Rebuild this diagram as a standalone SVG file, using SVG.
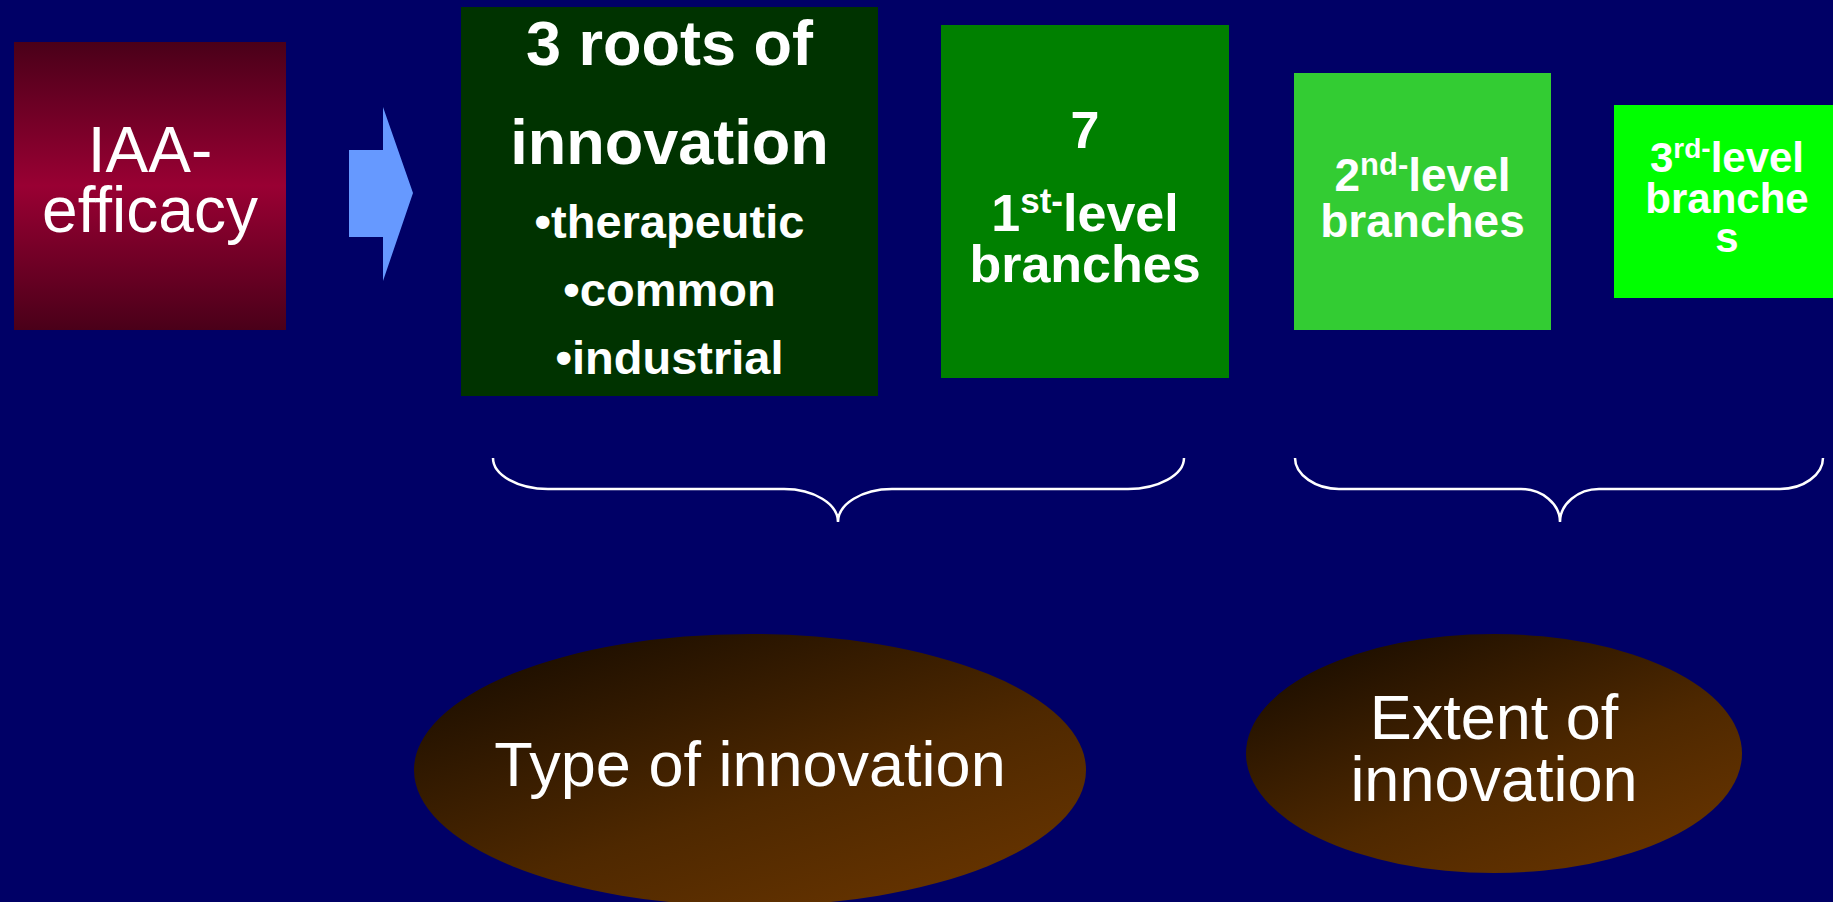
<svg xmlns="http://www.w3.org/2000/svg" width="1833" height="902" viewBox="0 0 1833 902">
  <defs>
    <linearGradient id="gradRed" x1="0" y1="0" x2="0" y2="1">
      <stop offset="0" stop-color="#4a0019"/>
      <stop offset="0.5" stop-color="#990033"/>
      <stop offset="1" stop-color="#4a0019"/>
    </linearGradient>
    <linearGradient id="gradBrown" x1="0.12" y1="0.08" x2="0.8" y2="0.95">
      <stop offset="0" stop-color="#1c0e00"/>
      <stop offset="0.6" stop-color="#4e2800"/>
      <stop offset="1" stop-color="#653300"/>
    </linearGradient>
    <style>
      .reg { font-family: "Liberation Sans", Arial, sans-serif; fill: #ffffff; text-anchor: middle; }
      .bold { font-family: "Liberation Sans", Arial, sans-serif; font-weight: bold; fill: #ffffff; text-anchor: middle; }
      .brace { fill: none; stroke: #ffffff; stroke-width: 2.5; }
    </style>
  </defs>

  <rect x="0" y="0" width="1833" height="902" fill="#000066"/>

  <g id="iaa-efficacy">
    <rect x="14" y="42" width="272" height="288" fill="url(#gradRed)"/>
    <text class="reg" font-size="64" x="150" y="172">IAA-</text>
    <text class="reg" font-size="64" x="150" y="232">efficacy</text>
  </g>

  <g id="arrow">
    <polygon points="349,150 383,150 383,107 413,193 383,281 383,237 349,237" fill="#6699ff"/>
  </g>

  <g id="roots">
    <rect x="461" y="7" width="417" height="389" fill="#003300"/>
    <text class="bold" font-size="63" x="669.5" y="65">3 roots of</text>
    <text class="bold" font-size="63" x="669.5" y="164">innovation</text>
    <text class="bold" font-size="47" x="669.5" y="238">•therapeutic</text>
    <text class="bold" font-size="47" x="669.5" y="306">•common</text>
    <text class="bold" font-size="47" x="669.5" y="374">•industrial</text>
  </g>

  <g id="level1">
    <rect x="941" y="25" width="288" height="353" fill="#008000"/>
    <text class="bold" font-size="52" x="1085" y="148">7</text>
    <text class="bold" font-size="52" x="1085" y="231">1<tspan font-size="35" dy="-18">st-</tspan><tspan dy="18">level</tspan></text>
    <text class="bold" font-size="52" x="1085" y="282">branches</text>
  </g>

  <g id="level2">
    <rect x="1294" y="73" width="257" height="257" fill="#33cc33"/>
    <text class="bold" font-size="46" x="1422.5" y="191">2<tspan font-size="31" dy="-16">nd-</tspan><tspan dy="16">level</tspan></text>
    <text class="bold" font-size="46" x="1422.5" y="237">branches</text>
  </g>

  <g id="level3">
    <rect x="1614" y="105" width="226" height="193" fill="#00ff00"/>
    <text class="bold" font-size="42" x="1727" y="172">3<tspan font-size="28" dy="-14">rd-</tspan><tspan dy="14">level</tspan></text>
    <text class="bold" font-size="42" x="1727" y="213">branche</text>
    <text class="bold" font-size="42" x="1727" y="252">s</text>
  </g>

  <g id="connectors">
    <path class="brace" d="M493,458 C493,475 518,489 548,489 L784,489 C814,489 838,504 838,522 C838,504 862,489 892,489 L1128,489 C1158,489 1184,475 1184,458"/>
    <path class="brace" d="M1295,458 C1295,475 1316,489 1339,489 L1521,489 C1542,489 1560,504 1560,522 C1560,504 1578,489 1599,489 L1780,489 C1803,489 1823,475 1823,458"/>
  </g>

  <g id="type-of-innovation">
    <ellipse cx="750" cy="770" rx="336" ry="136" fill="url(#gradBrown)"/>
    <text class="reg" font-size="63" x="750" y="786">Type of innovation</text>
  </g>

  <g id="extent-of-innovation">
    <ellipse cx="1494" cy="753.5" rx="248" ry="119.5" fill="url(#gradBrown)"/>
    <text class="reg" font-size="63" x="1494" y="739">Extent of</text>
    <text class="reg" font-size="63" x="1494" y="801">innovation</text>
  </g>
</svg>
